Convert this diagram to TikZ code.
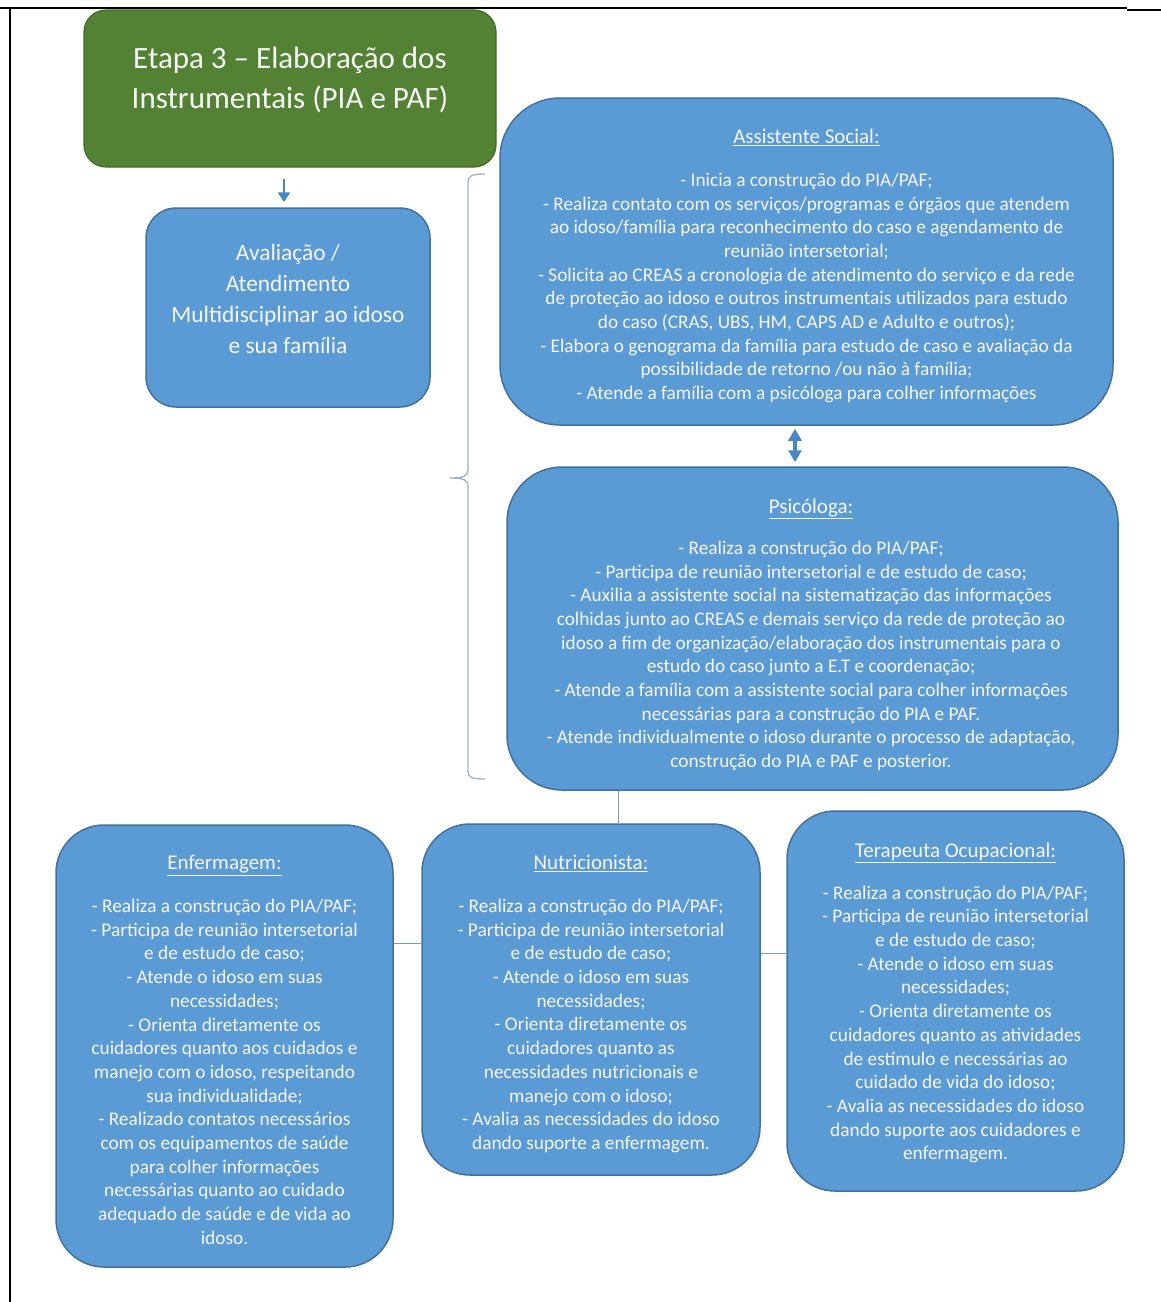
\documentclass[tikz,border=0pt]{standalone}
\usepackage{fontspec}
\setmainfont{Carlito}
\usetikzlibrary{arrows.meta}
\definecolor{boxblue}{RGB}{91,155,213}
\definecolor{boxedge}{RGB}{65,113,156}
\definecolor{stepgreen}{RGB}{84,130,53}
\definecolor{greenedge}{RGB}{66,104,42}
\definecolor{conn}{RGB}{125,155,185}
\definecolor{bracecol}{RGB}{160,178,198}
\definecolor{arrowblue}{RGB}{74,134,196}
\definecolor{txt}{RGB}{246,246,246}
\newcommand{\boxhead}[1]{{\fontsize{21}{25}\selectfont\underline{#1}}}
\begin{document}
\begin{tikzpicture}[x=1pt,y=-1pt,
  bluebox/.style={draw=boxedge, line width=1.5pt, fill=boxblue, inner sep=0pt},
  greenbox/.style={draw=greenedge, line width=1.2pt, fill=stepgreen, rounded corners=22pt, inner sep=0pt},
  bodytext/.style={text=txt, align=center, inner sep=0pt, font=\fontsize{19.3}{23.7}\selectfont},
  avaltext/.style={text=txt, align=center, inner sep=0pt, font=\fontsize{23.4}{30.7}\selectfont},
  steptext/.style={text=txt, align=center, inner sep=0pt, font=\fontsize{31}{40}\selectfont},
  connline/.style={draw=conn, line width=1pt},
  framelines/.style={draw=black, line width=1.6pt}
]
\useasboundingbox (0,0) rectangle (1161,1302);
\fill[white] (0,0) rectangle (1161,1302);

% frame
\draw[framelines] (0,8) -- (1127,8);
\draw[framelines, line width=2.4pt] (1127,10) -- (1161,10);
\draw[framelines] (10,8) -- (10,1302);

% boxes
\node[greenbox, minimum width=412pt, minimum height=157pt] (etapa) at (290,88.5) {};
\node[steptext] (etapaT) at (290,80) {Etapa 3 – Elaboração dos\\Instrumentais (PIA e PAF)};

\node[bluebox, rounded corners=30pt, minimum width=284pt, minimum height=199pt] (aval) at (288,307.5) {};
\node[avaltext] (avalT) at (288,299) {Avaliação /\\Atendimento\\Multidisciplinar ao idoso\\e sua família};

\node[bluebox, rounded corners=60pt, minimum width=613pt, minimum height=327pt] (assist) at (806.5,261.5) {};
\node[bodytext] (assistT) at (806.5,266) {\boxhead{Assistente Social:}\\[19pt]
- Inicia a construção do PIA/PAF;\\
- Realiza contato com os serviços/programas e órgãos que atendem\\
ao idoso/família para reconhecimento do caso e agendamento de\\
reunião intersetorial;\\
- Solicita ao CREAS a cronologia de atendimento do serviço e da rede\\
de proteção ao idoso e outros instrumentais utilizados para estudo\\
do caso (CRAS, UBS, HM, CAPS AD e Adulto e outros);\\
- Elabora o genograma da família para estudo de caso e avaliação da\\
possibilidade de retorno /ou não à família;\\
- Atende a família com a psicóloga para colher informações};

\node[bluebox, rounded corners=55pt, minimum width=611pt, minimum height=323pt] (psico) at (812.5,628.5) {};
\node[bodytext] (psicoT) at (811,635) {\boxhead{Psicóloga:}\\[17pt]
- Realiza a construção do PIA/PAF;\\
- Participa de reunião intersetorial e de estudo de caso;\\
- Auxilia a assistente social na sistematização das informações\\
colhidas junto ao CREAS e demais serviço da rede de proteção ao\\
idoso a fim de organização/elaboração dos instrumentais para o\\
estudo do caso junto a E.T e coordenação;\\
- Atende a família com a assistente social para colher informações\\
necessárias para a construção do PIA e PAF.\\
- Atende individualmente o idoso durante o processo de adaptação,\\
construção do PIA e PAF e posterior.};

\node[bluebox, rounded corners=48pt, minimum width=337pt, minimum height=442pt] (enf) at (224.5,1046) {};
\node[bodytext] (enfT) at (224.5,1050) {\boxhead{Enfermagem:}\\[19pt]
- Realiza a construção do PIA/PAF;\\
- Participa de reunião intersetorial\\
e de estudo de caso;\\
- Atende o idoso em suas\\
necessidades;\\
- Orienta diretamente os\\
cuidadores quanto aos cuidados e\\
manejo com o idoso, respeitando\\
sua individualidade;\\
- Realizado contatos necessários\\
com os equipamentos de saúde\\
para colher informações\\
necessárias quanto ao cuidado\\
adequado de saúde e de vida ao\\
idoso.};

\node[bluebox, rounded corners=48pt, minimum width=338pt, minimum height=351pt] (nutri) at (591,999.5) {};
\node[bodytext] (nutriT) at (591,1004) {\boxhead{Nutricionista:}\\[19pt]
- Realiza a construção do PIA/PAF;\\
- Participa de reunião intersetorial\\
e de estudo de caso;\\
- Atende o idoso em suas\\
necessidades;\\
- Orienta diretamente os\\
cuidadores quanto as\\
necessidades nutricionais e\\
manejo com o idoso;\\
- Avalia as necessidades do idoso\\
dando suporte a enfermagem.};

\node[bluebox, rounded corners=48pt, minimum width=337pt, minimum height=380pt] (terap) at (955.5,1001) {};
\node[bodytext] (terapT) at (955.5,1003) {\boxhead{Terapeuta Ocupacional:}\\[18pt]
- Realiza a construção do PIA/PAF;\\
- Participa de reunião intersetorial\\
e de estudo de caso;\\
- Atende o idoso em suas\\
necessidades;\\
- Orienta diretamente os\\
cuidadores quanto as atividades\\
de estímulo e necessárias ao\\
cuidado de vida do idoso;\\
- Avalia as necessidades do idoso\\
dando suporte aos cuidadores e\\
enfermagem.};

% arrows
\coordinate (arx) at (284,0);
\draw[arrowblue, line width=2.6pt, -{Triangle[width=12pt,length=10pt]}, shorten <=11pt, shorten >=5pt]
  (etapa.south -| arx) -- (aval.north -| arx);
\coordinate (dax) at (795,0);
\draw[arrowblue, line width=3.5pt, {Triangle[width=13pt,length=12pt]}-{Triangle[width=13pt,length=12pt]}, shorten <=3pt, shorten >=4pt]
  (assist.south -| dax) -- (psico.north -| dax);

% connectors
\coordinate (cvx) at (618,0);
\draw[connline] (psico.south -| cvx) -- (nutri.north -| cvx);
\coordinate (ch1) at (0,943);
\draw[connline] (enf.east |- ch1) -- (nutri.west |- ch1);
\coordinate (ch2) at (0,953);
\draw[connline] (nutri.east |- ch2) -- (terap.west |- ch2);

% brace
\draw[bracecol, line width=1.3pt, line join=round]
  (485,174) .. controls (471,174) and (468,176) .. (468,183)
  -- (468,470) .. controls (468,476) and (464,478) .. (450,478)
  .. controls (464,478) and (468,480) .. (468,486)
  -- (468,771) .. controls (468,777) and (471,779) .. (485,779);
\end{tikzpicture}
\end{document}
